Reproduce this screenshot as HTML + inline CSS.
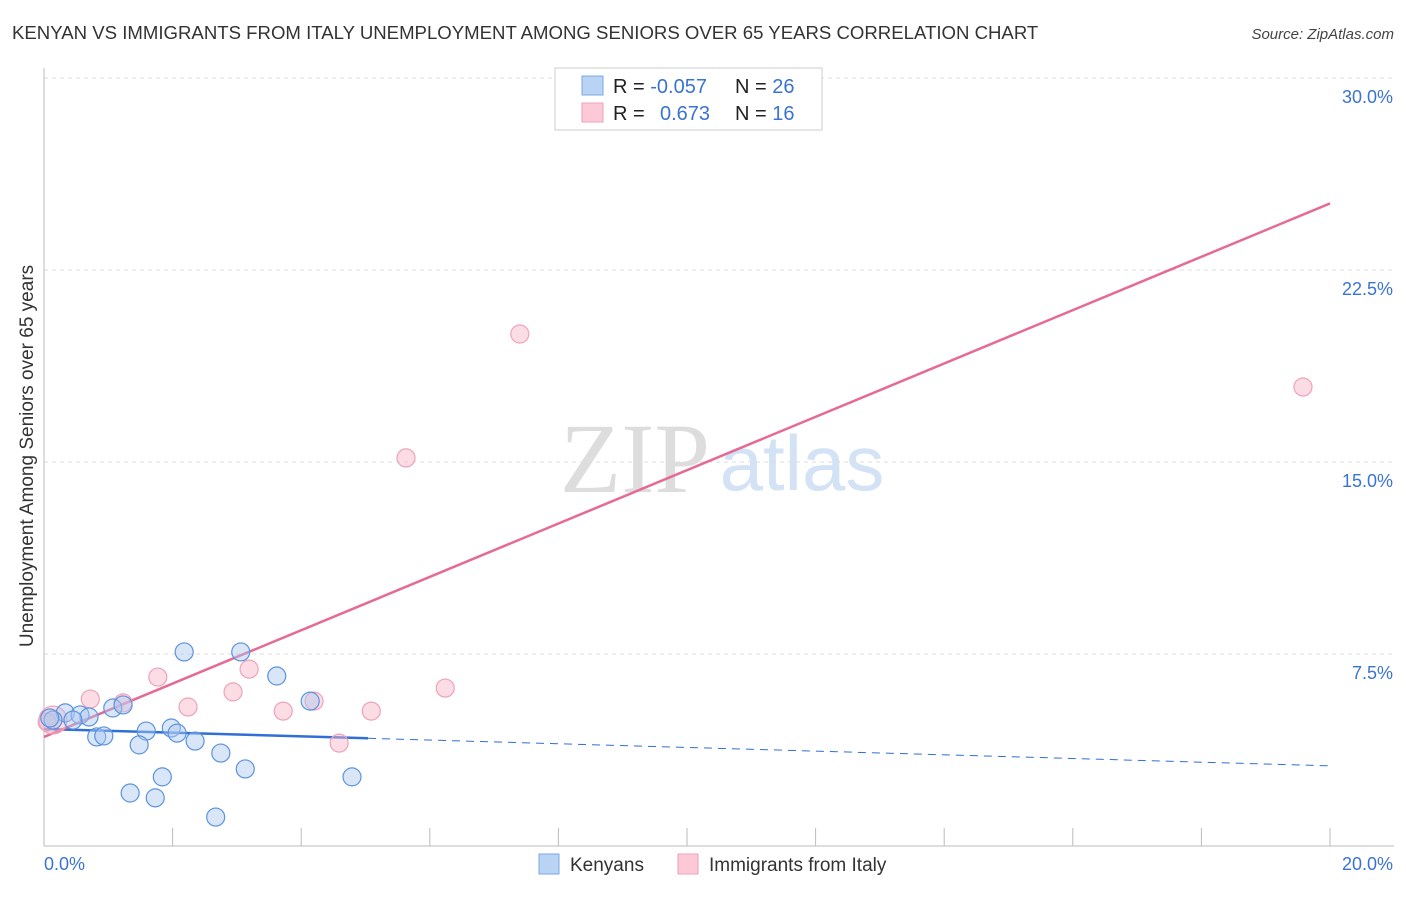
<!DOCTYPE html>
<html><head><meta charset="utf-8"><style>
body{margin:0;background:#fff;font-family:"Liberation Sans",sans-serif;}
svg text{font-family:"Liberation Sans",sans-serif;}
</style></head><body>
<svg id="chart" width="1406" height="892" xmlns="http://www.w3.org/2000/svg">
<text x="12" y="39" font-size="18.6" fill="#333">KENYAN VS IMMIGRANTS FROM ITALY UNEMPLOYMENT AMONG SENIORS OVER 65 YEARS CORRELATION CHART</text>
<text x="1394" y="39" font-size="15" font-style="italic" fill="#444" text-anchor="end">Source: ZipAtlas.com</text>
<text x="33" y="456" font-size="19" fill="#333" text-anchor="middle" transform="rotate(-90 33 456)">Unemployment Among Seniors over 65 years</text>
<g>
<text x="635" y="492" font-size="100" fill="#ddd" style="font-family:'Liberation Serif',serif" text-anchor="middle">ZIP</text>
<text x="802" y="490" font-size="78" fill="#d3e2f5" text-anchor="middle">atlas</text>
</g>
<g id="grid"></g>
<g id="axes"></g>
<g id="lines"></g>
<g id="points"></g>
<g>
<rect x="555" y="68" width="267" height="62" fill="#fff" stroke="#ccc"/>
<rect x="582" y="76" width="21" height="19" fill="#b9d3f5" stroke="#7aa7e3"/>
<rect x="582" y="103" width="21" height="19" fill="#fcc9d8" stroke="#eea2b9"/>
<text x="613" y="93" font-size="20" fill="#222">R = <tspan fill="#3a74d0">-0.057</tspan></text>
<text x="735" y="93" font-size="20" fill="#222">N = <tspan fill="#3a74d0">26</tspan></text>
<text x="613" y="120" font-size="20" fill="#222">R = <tspan fill="#3a74d0" x="660">0.673</tspan></text>
<text x="735" y="120" font-size="20" fill="#222">N = <tspan fill="#3a74d0">16</tspan></text>
</g>
<g>
<rect x="539" y="854" width="20" height="20" fill="#b9d3f5" stroke="#7aa7e3"/>
<text x="570" y="871" font-size="19" fill="#333">Kenyans</text>
<rect x="678" y="854" width="20" height="20" fill="#fcc9d8" stroke="#eea2b9"/>
<text x="709" y="871" font-size="19" fill="#333">Immigrants from Italy</text>
</g>
</svg>
<script>
const yTicks=[7.5,15,22.5,30];
const yTickLabels=["7.5%","15.0%","22.5%","30.0%"];
const xTicks=[2,4,6,8,10,12,14,16,18,20];
const kenyanX=[2.18,3.06,3.62,4.14,1.07,1.23,0.33,0.56,0.70,0.45,0.14,0.09,0.82,0.93,1.59,1.98,2.07,2.35,1.48,2.75,3.13,4.79,1.84,1.34,1.73,2.67];
const kenyanY=[7.58,7.58,6.64,5.66,5.39,5.51,5.20,5.12,5.04,4.92,4.92,5.00,4.26,4.30,4.49,4.61,4.41,4.10,3.95,3.63,3.01,2.70,2.70,2.07,1.88,1.13];
const italyX=[0.14,0.05,0.72,1.23,1.77,2.24,2.94,3.19,3.72,4.20,5.09,6.24,4.59,5.63,7.40,19.58];
const italyY=[4.92,4.84,5.74,5.59,6.60,5.43,6.02,6.91,5.27,5.66,5.27,6.17,4.02,15.16,20.0,17.93];
const kenyanTrend=[4.57,3.13];
const kenyanSolidEnd=5.04;
const italyTrend=[4.26,25.1];
const NS="http://www.w3.org/2000/svg";
const X=v=>44+v*64.3, Y=v=>846-v*25.6;
function mk(tag,attrs,parent){const e=document.createElementNS(NS,tag);for(const k in attrs)e.setAttribute(k,attrs[k]);document.getElementById(parent).appendChild(e);return e;}
yTicks.forEach((t,i)=>{
 const g=mk('line',{x1:44,x2:1394,y1:Y(t),y2:Y(t),stroke:'#ddd','stroke-dasharray':'4 4'},'grid');
 
 
 const l=mk('text',{x:1393,y:Y(t)+25,'font-size':18,fill:'#3a74d0','text-anchor':'end'},'axes');
 l.textContent=yTickLabels[i];
 
 
});
const ya=mk('line',{x1:44,x2:44,y1:68,y2:846,stroke:'#bbb'},'axes');


const xa=mk('line',{x1:44,x2:1394,y1:846,y2:846,stroke:'#bbb'},'axes');


xTicks.forEach(t=>{
 const k=mk('line',{x1:X(t),x2:X(t),y1:828,y2:846,stroke:'#bbb'},'axes');
 
 
});
const x0=mk('text',{x:44,y:870,'font-size':18,fill:'#3a74d0'},'axes');x0.textContent='0.0%';


const x1=mk('text',{x:1393,y:870,'font-size':18,fill:'#3a74d0','text-anchor':'end'},'axes');x1.textContent='20.0%';


const kv=x=>kenyanTrend[0]+(kenyanTrend[1]-kenyanTrend[0])*x/20;
const ks=mk('line',{x1:X(0),y1:Y(kv(0)),x2:X(kenyanSolidEnd),y2:Y(kv(kenyanSolidEnd)),stroke:'#2f6fd6','stroke-width':2.5},'lines');


const kd=mk('line',{x1:X(kenyanSolidEnd),y1:Y(kv(kenyanSolidEnd)),x2:X(20),y2:Y(kv(20)),stroke:'#2f6fd6','stroke-width':1,'stroke-dasharray':'8 6'},'lines');


const it=mk('line',{x1:X(0),y1:Y(italyTrend[0]),x2:X(20),y2:Y(italyTrend[1]),stroke:'#e56a94','stroke-width':2.5},'lines');


italyX.forEach((x,i)=>{
 const c=mk('circle',{cx:X(x),cy:Y(italyY[i]),r:i===0?14:9,fill:'rgba(248,180,200,0.45)',stroke:'#eea2b9','stroke-width':1.2},'points');
 
 
});
kenyanX.forEach((x,i)=>{
 const c=mk('circle',{cx:X(x),cy:Y(kenyanY[i]),r:9,fill:'rgba(170,200,240,0.45)',stroke:'#5b93de','stroke-width':1.2},'points');
 
 
});
</script>
</body></html>
